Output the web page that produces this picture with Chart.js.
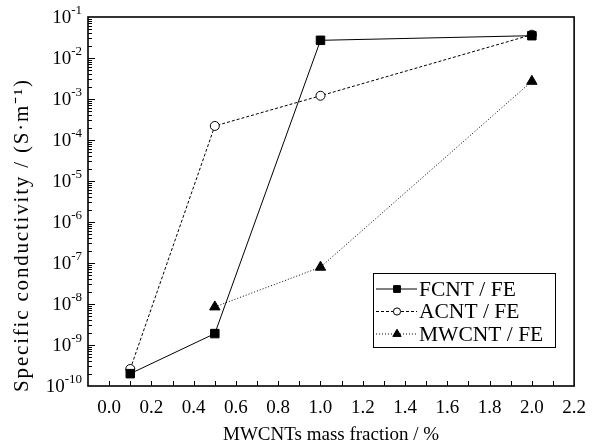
<!DOCTYPE html>
<html>
<head>
  <title>Specific conductivity</title>
  <script src="https://cdn.jsdelivr.net/npm/chart.js"></script>
  <style>
    body { margin: 0; background: #fff; }
    #wrap { width: 597px; height: 443px; }
  </style>
</head>
<body>
  <div id="wrap"><canvas id="chart" width="597" height="443"></canvas></div>

  <script>
    // data
    const fcntX = [0.1, 0.5, 1.0, 2.0];
    const fcntY = [2.0e-10, 1.9e-9, 2.7e-2, 3.5e-2];
    const acntX = [0.1, 0.5, 1.0, 2.0];
    const acntY = [2.6e-10, 2.2e-4, 1.2e-3, 3.7e-2];
    const mwcntX = [0.5, 1.0, 2.0];
    const mwcntY = [8.5e-9, 7.9e-8, 2.7e-3];

    const seriesNames = ['FCNT / FE', 'ACNT / FE', 'MWCNT / FE'];
    const xTickLabels = ['0.0', '0.2', '0.4', '0.6', '0.8', '1.0', '1.2', '1.4', '1.6', '1.8', '2.0', '2.2'];
    const yTickExps = ['-10', '-9', '-8', '-7', '-6', '-5', '-4', '-3', '-2', '-1'];
    const xTitle = 'MWCNTs mass fraction / %';
    const yTitle = 'Specific conductivity / (S·m⁻¹)';

    const serif = '"Liberation Serif", "Times New Roman", serif';
    const pts = (xs, ys) => xs.map((x, i) => ({ x: x, y: ys[i] }));

    // frame, inward ticks, y labels with superscripts, titles, boxed legend
    const decor = {
      id: 'decor',
      afterDraw(chart) {
        const ctx = chart.ctx;
        const a = chart.chartArea;
        const xs = chart.scales.x, ys = chart.scales.y;
        ctx.save();
        ctx.strokeStyle = '#000';
        ctx.fillStyle = '#000';
        ctx.lineWidth = 1;
        ctx.beginPath();
        xs.ticks.forEach(t => {
          const px = Math.round(xs.getPixelForValue(t.value)) + 0.5;
          if (px <= a.left + 1 || px >= a.right - 1) return;
          ctx.moveTo(px, a.bottom);
          ctx.lineTo(px, a.bottom - 5);
        });
        ys.ticks.forEach(t => {
          const py = Math.round(ys.getPixelForValue(t.value)) + 0.5;
          if (py <= a.top + 1 || py >= a.bottom - 1) return;
          const len = t.major ? 7 : 4;
          ctx.moveTo(a.left, py);
          ctx.lineTo(a.left + len, py);
        });
        ctx.stroke();

        ctx.lineWidth = 1.6;
        ctx.strokeRect(a.left, a.top, a.right - a.left, a.bottom - a.top);

        // y tick labels: 10 with raised exponent
        ctx.textBaseline = 'middle';
        ctx.textAlign = 'right';
        yTickExps.forEach((ex, i) => {
          const py = ys.getPixelForValue(Math.pow(10, i - 10));
          const right = a.left - 6;
          ctx.font = '13px ' + serif;
          const ew = ctx.measureText(ex).width;
          ctx.fillText(ex, right, py - 6);
          ctx.font = '19px ' + serif;
          ctx.fillText('10', right - ew, py + 1);
        });

        // axis titles
        ctx.textAlign = 'center';
        ctx.font = '19px ' + serif;
        ctx.fillText(xTitle, (a.left + a.right) / 2, 435);

        ctx.save();
        ctx.font = '21px ' + serif;
        const natural = ctx.measureText(yTitle).width;
        const n = [...yTitle].length;
        ctx.letterSpacing = Math.max(0, (312 - natural) / (n - 1)) + 'px';
        ctx.translate(22, 235);
        ctx.rotate(-Math.PI / 2);
        ctx.fillText(yTitle, 0, 0);
        ctx.restore();

        // legend
        const lx = 373, ly = 273, lw = 182, lh = 74;
        ctx.fillStyle = '#fff';
        ctx.fillRect(lx, ly, lw, lh);
        ctx.lineWidth = 1;
        ctx.strokeRect(lx + 0.5, ly + 0.5, lw, lh);
        ctx.font = '21.5px ' + serif;
        ctx.textAlign = 'left';
        ctx.textBaseline = 'middle';
        chart.data.datasets.forEach((ds, i) => {
          const cy = ly + 16 + i * 22.5;
          ctx.save();
          ctx.strokeStyle = '#000';
          ctx.lineWidth = 1;
          ctx.setLineDash(ds.borderDash || []);
          ctx.beginPath();
          ctx.moveTo(lx + 3, cy);
          ctx.lineTo(lx + 44, cy);
          ctx.stroke();
          ctx.restore();
          ctx.save();
          ctx.fillStyle = ds.pointBackgroundColor;
          ctx.strokeStyle = '#000';
          ctx.lineWidth = 1;
          Chart.helpers.drawPoint(ctx, {
            pointStyle: ds.pointStyle,
            radius: ds.pointRadius * 0.8,
            rotation: 0,
            borderWidth: 1
          }, lx + 24, cy);
          ctx.restore();
          ctx.fillStyle = '#000';
          ctx.fillText(ds.label, lx + 46, cy + 1);
        });
        ctx.restore();
      }
    };

    new Chart(document.getElementById('chart'), {
      type: 'line',
      data: {
        datasets: [
          {
            label: seriesNames[0],
            data: pts(fcntX, fcntY),
            borderColor: '#000',
            borderWidth: 1,
            pointStyle: 'rect',
            pointRadius: 6,
            pointBackgroundColor: '#000',
            pointBorderColor: '#000'
          },
          {
            label: seriesNames[1],
            data: pts(acntX, acntY),
            borderColor: '#000',
            borderWidth: 1,
            borderDash: [3, 2],
            pointStyle: 'circle',
            pointRadius: 4.5,
            pointBackgroundColor: '#fff',
            pointBorderColor: '#000'
          },
          {
            label: seriesNames[2],
            data: pts(mwcntX, mwcntY),
            borderColor: '#000',
            borderWidth: 1,
            borderDash: [1, 2],
            pointStyle: 'triangle',
            pointRadius: 6,
            pointBackgroundColor: '#000',
            pointBorderColor: '#000'
          }
        ]
      },
      options: {
        responsive: false,
        animation: false,
        layout: { padding: { top: 17, right: 14, left: 0, bottom: 0 } },
        plugins: {
          legend: { display: false },
          tooltip: { enabled: false }
        },
        scales: {
          x: {
            type: 'linear',
            min: -0.1,
            max: 2.2,
            afterFit: s => { s.height = 57; },
            afterBuildTicks: s => {
              const t = [];
              for (let i = -1; i <= 22; i++) t.push({ value: i / 10 });
              s.ticks = t;
            },
            grid: { display: false, drawTicks: false },
            border: { display: false },
            ticks: {
              padding: 11,
              maxRotation: 0,
              autoSkip: false,
              color: '#000',
              font: { family: serif, size: 19 },
              callback: v => {
                const k = Math.round(v * 10);
                return (k >= 0 && k % 2 === 0) ? xTickLabels[k / 2] : '';
              }
            },
            title: { display: false }
          },
          y: {
            type: 'logarithmic',
            min: 1e-10,
            max: 1e-1,
            afterFit: s => { s.width = 88; },
            afterBuildTicks: s => {
              const t = [];
              for (let e = -10; e <= -2; e++) {
                for (let k = 1; k <= 9; k++) t.push({ value: k * Math.pow(10, e), major: k === 1 });
              }
              t.push({ value: 1e-1, major: true });
              s.ticks = t;
            },
            grid: { display: false, drawTicks: false },
            border: { display: false },
            ticks: { display: false, autoSkip: false },
            title: { display: false }
          }
        }
      },
      plugins: [decor]
    });
  </script>
</body>
</html>
